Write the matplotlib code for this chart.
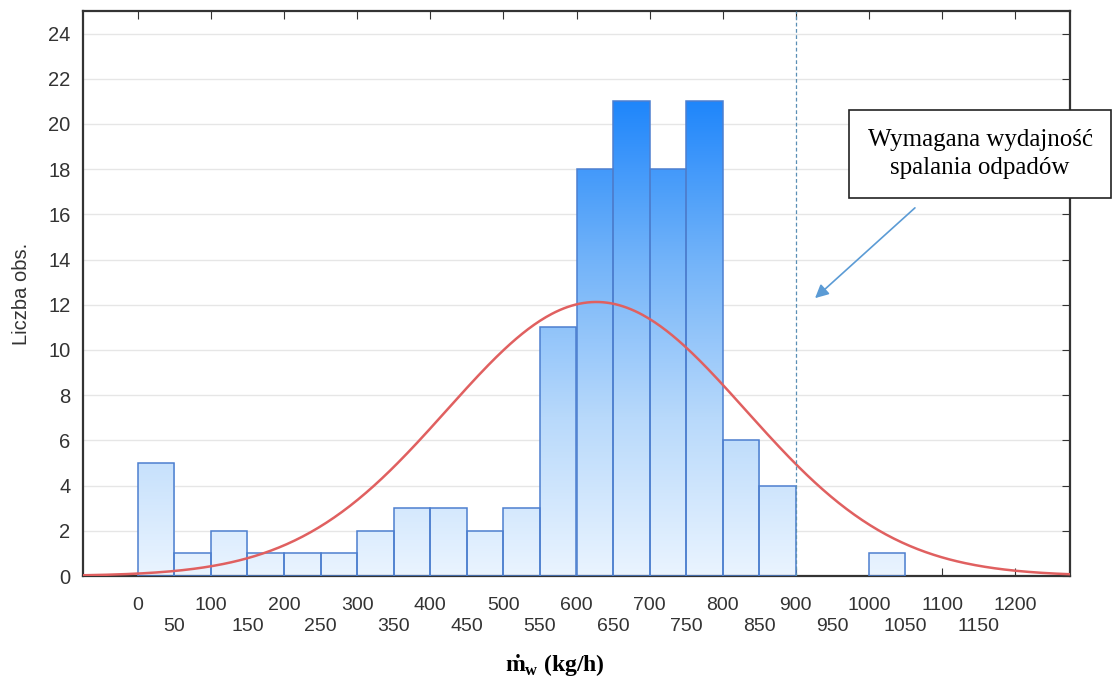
import numpy as np
import matplotlib
matplotlib.use('Agg')
import matplotlib.pyplot as plt
from matplotlib.colors import LinearSegmentedColormap
from matplotlib.patches import Rectangle

# dane histogramu (lewe krawedzie klas, szerokosc 50 kg/h)
bin_left = [0, 50, 100, 150, 200, 250, 300, 350, 400, 450, 500,
            550, 600, 650, 700, 750, 800, 850, 900, 950, 1000]
counts = [5, 1, 2, 1, 1, 1, 2, 3, 3, 2, 3,
          11, 18, 21, 18, 21, 6, 4, 0, 0, 1]
bin_width = 50

# parametry krzywej normalnej
fit_mean = 627
fit_sd = 204

required_rate = 900
box_text = 'Wymagana wydajność\nspalania odpadów'

plt.rcParams['font.family'] = ['Liberation Sans', 'DejaVu Sans']
plt.rcParams['mathtext.fontset'] = 'custom'
plt.rcParams['mathtext.rm'] = 'Liberation Serif'
plt.rcParams['mathtext.bf'] = 'Liberation Serif:bold'

fig = plt.figure(figsize=(11.16, 6.84), dpi=100)
ax = fig.add_axes([83/1116, 1 - 576/684, (1070-83)/1116, (576-11)/684])

ax.set_xlim(-75, 1275)
ax.set_ylim(0, 25)

# siatka pozioma
ax.set_yticks(range(0, 25, 2))
ax.grid(axis='y', color='#e6e6e6', linewidth=1)
ax.set_axisbelow(True)

# slupki z gradientem
cmap = LinearSegmentedColormap.from_list('b', ['#eaf4ff', '#b8d9fb', '#72b3f9', '#1f86fb'])
grad = np.linspace(0, 1, 256).reshape(-1, 1)
ymax = max(counts)
for x0, c in zip(bin_left, counts):
    if c == 0:
        continue
    rect = Rectangle((x0, 0), bin_width, c, facecolor='none', edgecolor='#4d7fcf',
                     linewidth=1.1, zorder=3)
    ax.add_patch(rect)
    im = ax.imshow(grad, cmap=cmap, origin='lower', aspect='auto',
                   extent=[x0, x0 + bin_width, 0, ymax], zorder=2)
    im.set_clip_path(rect)

# krzywa normalna
xs = np.linspace(-75, 1275, 500)
n = sum(counts)
ys = n * bin_width / (fit_sd * np.sqrt(2 * np.pi)) * np.exp(-(xs - fit_mean) ** 2 / (2 * fit_sd ** 2))
ax.plot(xs, ys, color='#e06060', linewidth=1.8, zorder=4)

# linia wymaganej wydajnosci
ax.axvline(required_rate, color='#5a8fb5', linestyle=(0, (3, 2)), linewidth=0.9, zorder=5)

# osie i podzialki
ax.set_xticks(range(0, 1201, 100))
ax.set_xticklabels([])
ax.tick_params(axis='x', which='both', direction='in', length=6, top=True, color='#333333')
ax.tick_params(axis='y', direction='in', length=6, left=False, right=True, color='#333333',
               labelsize=14.5, labelcolor='#333333', pad=9)
for s in ax.spines.values():
    s.set_linewidth(1.6)
    s.set_color('#333333')

for v in range(0, 1201, 100):
    ax.text(v, -1.3, str(v), ha='center', va='center', fontsize=14, color='#333333')
for v in range(50, 1151, 100):
    ax.text(v, -2.25, str(v), ha='center', va='center', fontsize=14, color='#333333')

ax.set_ylabel('Liczba obs.', fontsize=14.5, color='#333333', labelpad=12)
fig.text(555/1116, 1 - 666/684, r'$\mathbf{\dot{m}_w}$ (kg/h)', ha='center', va='center',
         fontsize=17, fontweight='bold', family='Liberation Serif')

# ramka z opisem i strzalka
fig.text(980/1116, 1 - 154/684, box_text, ha='center', va='center', fontsize=18,
         family='Liberation Serif', linespacing=1.4,
         bbox=dict(boxstyle='square,pad=0.75', facecolor='white', edgecolor='#222222', linewidth=1.2),
         zorder=10)
ax.annotate('', xy=(813/1116, 1 - 300/684), xytext=(917/1116, 1 - 206/684),
            xycoords='figure fraction', textcoords='figure fraction',
            arrowprops=dict(arrowstyle='-|>', color='#5b9bd5', linewidth=1.2, mutation_scale=20))

fig.savefig('out.png', dpi=100)
